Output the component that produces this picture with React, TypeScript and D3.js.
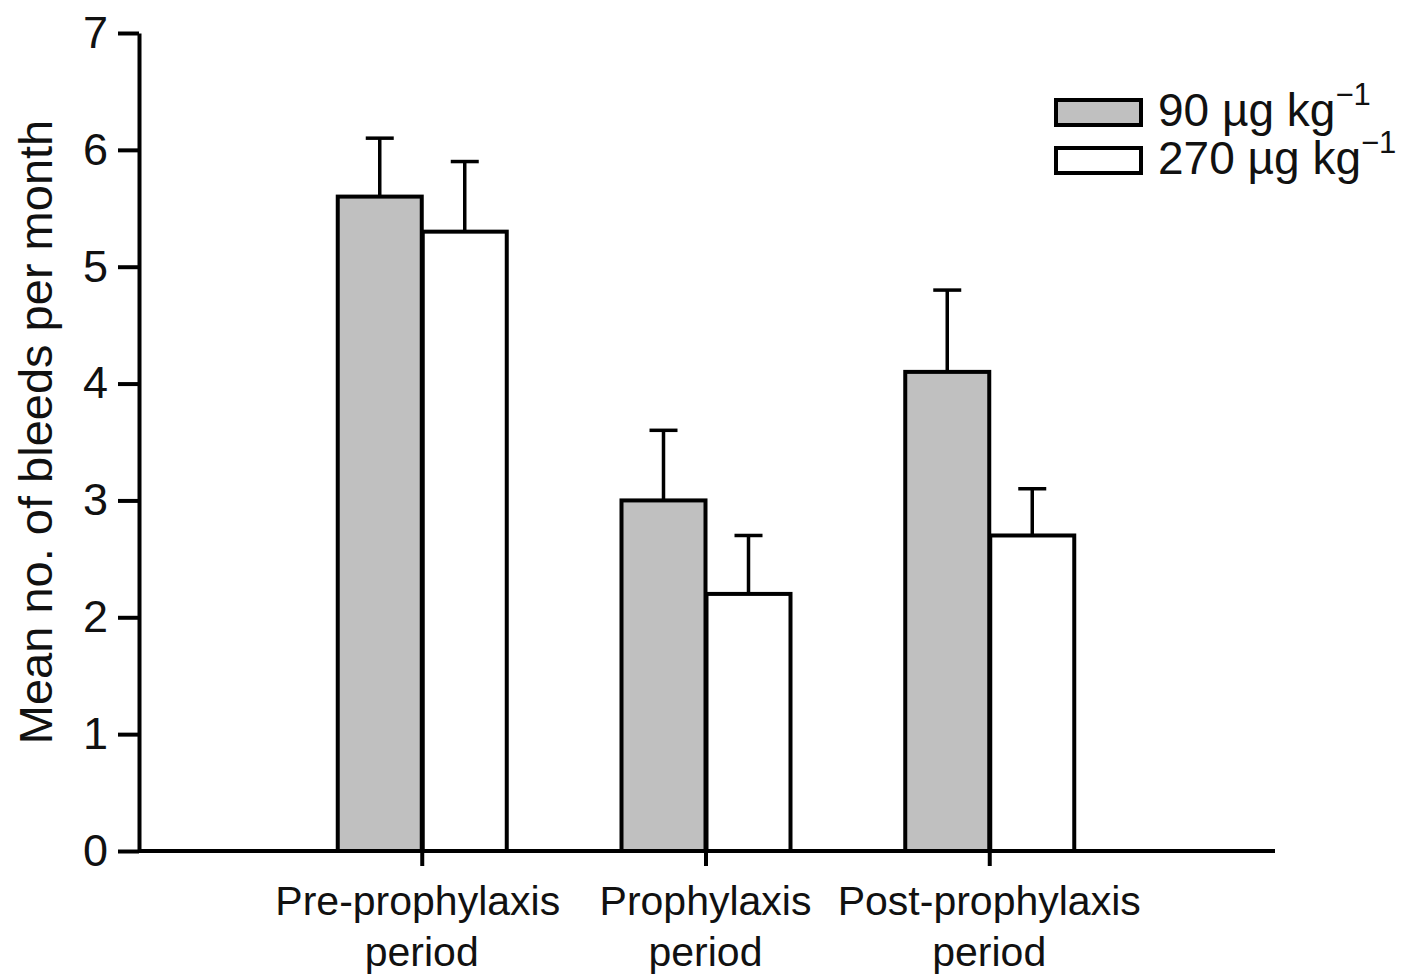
import * as d3 from "d3";
import { useEffect, useRef } from "react";

const categories = ["Pre-prophylaxis", "Prophylaxis", "Post-prophylaxis"];
const categoryLines = [
  ["Pre-prophylaxis", "period"],
  ["Prophylaxis", "period"],
  ["Post-prophylaxis", "period"],
];
const dose90Means = [5.6, 3.0, 4.1];
const dose90Upper = [6.1, 3.6, 4.8];
const dose270Means = [5.3, 2.2, 2.7];
const dose270Upper = [5.9, 2.7, 3.1];
const yTicks = [0, 1, 2, 3, 4, 5, 6, 7];
const seriesNames = ["90 µg kg", "270 µg kg"];

const WIDTH = 1412;
const HEIGHT = 978;
const MARGIN = { top: 33, right: 139, bottom: 127, left: 139 };
const BAR_W = 84;
const CAP = 14;
const FONT = "'Liberation Sans', Arial, Helvetica, sans-serif";

interface BarDatum {
  cat: string;
  series: number;
  value: number;
  upper: number;
}

export default function App() {
  const svgRef = useRef<SVGSVGElement | null>(null);

  useEffect(() => {
    if (!svgRef.current) return;
    const svg = d3.select(svgRef.current);
    svg.selectAll("*").remove();

    const x = d3
      .scalePoint<string>()
      .domain(categories)
      .range([MARGIN.left - 1, WIDTH - MARGIN.right])
      .padding(1);
    const y = d3
      .scaleLinear()
      .domain([0, 7])
      .range([HEIGHT - MARGIN.bottom, MARGIN.top]);

    const data: BarDatum[] = categories.flatMap((cat, i) => [
      { cat, series: 0, value: dose90Means[i], upper: dose90Upper[i] },
      { cat, series: 1, value: dose270Means[i], upper: dose270Upper[i] },
    ]);
    const barX = (d: BarDatum) => (x(d.cat) ?? 0) + (d.series === 0 ? -BAR_W : 1);

    // error bars, upper side only
    const errs = svg.append("g").attr("stroke", "#000").attr("stroke-width", 3.5);
    errs
      .selectAll("line.stem")
      .data(data)
      .join("line")
      .attr("class", "stem")
      .attr("x1", (d) => barX(d) + BAR_W / 2)
      .attr("x2", (d) => barX(d) + BAR_W / 2)
      .attr("y1", (d) => y(d.value))
      .attr("y2", (d) => y(d.upper));
    errs
      .selectAll("line.cap")
      .data(data)
      .join("line")
      .attr("class", "cap")
      .attr("x1", (d) => barX(d) + BAR_W / 2 - CAP)
      .attr("x2", (d) => barX(d) + BAR_W / 2 + CAP)
      .attr("y1", (d) => y(d.upper))
      .attr("y2", (d) => y(d.upper));

    // bars
    svg
      .append("g")
      .selectAll("rect")
      .data(data)
      .join("rect")
      .attr("x", barX)
      .attr("y", (d) => y(d.value))
      .attr("width", BAR_W)
      .attr("height", (d) => y(0) - y(d.value))
      .attr("fill", (d) => (d.series === 0 ? "#c0c0c0" : "#fff"))
      .attr("stroke", "#000")
      .attr("stroke-width", 4);

    // y axis
    const yAxis = svg
      .append("g")
      .attr("transform", `translate(${MARGIN.left},0)`)
      .call(
        d3
          .axisLeft(y)
          .tickValues(yTicks)
          .tickSize(21)
          .tickSizeOuter(0)
          .tickPadding(10)
          .tickFormat(d3.format("d")),
      );
    yAxis.select(".domain").attr("stroke-width", 4);
    yAxis.selectAll(".tick line").attr("stroke-width", 4);
    yAxis
      .selectAll(".tick text")
      .attr("font-family", FONT)
      .attr("font-size", 45)
      .attr("fill", "#111");

    // x axis
    const xAxis = svg
      .append("g")
      .attr("transform", `translate(0,${y(0)})`)
      .call(d3.axisBottom(x).tickSize(15).tickSizeOuter(0).tickFormat(() => ""));
    xAxis.select(".domain").attr("stroke-width", 4).attr("d", `M${MARGIN.left},0H${WIDTH - MARGIN.right + 2}`);
    xAxis.selectAll(".tick line").attr("stroke-width", 4);

    const labels = svg
      .append("g")
      .attr("font-family", FONT)
      .attr("font-size", 41)
      .attr("fill", "#111")
      .attr("text-anchor", "middle");
    categories.forEach((cat, i) => {
      const t = labels.append("text");
      categoryLines[i].forEach((line, j) => {
        t.append("tspan")
          .attr("x", (x(cat) ?? 0) - (j === 0 && i === 0 ? 4 : 0))
          .attr("y", 915 + j * 51)
          .text(line);
      });
    });

    // y title
    svg
      .append("text")
      .attr("transform", "translate(52,432) rotate(-90)")
      .attr("text-anchor", "middle")
      .attr("font-family", FONT)
      .attr("font-size", 47)
      .attr("fill", "#111")
      .text("Mean no. of bleeds per month");

    // legend
    const legend = svg.append("g").attr("font-family", FONT).attr("fill", "#111");
    seriesNames.forEach((name, i) => {
      const yy = 100 + i * 48;
      legend
        .append("rect")
        .attr("x", 1056)
        .attr("y", yy)
        .attr("width", 85)
        .attr("height", 25)
        .attr("fill", i === 0 ? "#c0c0c0" : "#fff")
        .attr("stroke", "#000")
        .attr("stroke-width", 4);
      const t = legend
        .append("text")
        .attr("x", 1158)
        .attr("y", yy + 26)
        .attr("font-size", 46);
      t.append("tspan").text(name);
      t.append("tspan").attr("dy", -21).attr("font-size", 31).text("−1");
    });
  }, []);

  return (
    <svg
      ref={svgRef}
      width={WIDTH}
      height={HEIGHT}
      style={{ position: "absolute", left: 0, top: 0, background: "#fff" }}
    />
  );
}
